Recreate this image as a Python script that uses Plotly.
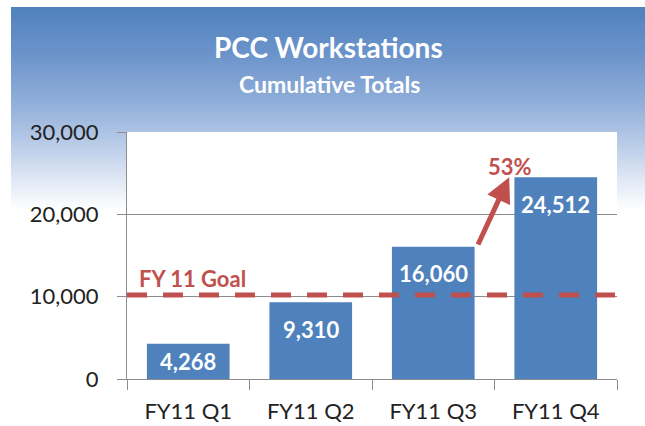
import plotly.graph_objects as go

# ---- data ----
quarters = ["FY11 Q1", "FY11 Q2", "FY11 Q3", "FY11 Q4"]
workstations = [4268, 9310, 16060, 24512]
goal_value = 10200
goal_label = "FY 11 Goal"
growth_label = "53%"
y_ticks = [0, 10000, 20000, 30000]
y_tick_labels = ["0", "10,000", "20,000", "30,000"]
title_text = "PCC Workstations"
subtitle_text = "Cumulative Totals"

# ---- layout geometry (pixels) ----
W, H = 645, 426
L, R, T, B = 127, 617, 132, 379
YMAX = 30000
FONT = "Lato"
BLUE = "#4F81BD"
RED = "#C0504D"
GREY = "#8C8C8C"


def px_x(p):
    return (p - L) / (R - L)


def px_y(p):
    return (B - p) / (B - T)


fig = go.Figure()
fig.add_trace(go.Bar(
    x=quarters, y=workstations, marker=dict(color=BLUE, line=dict(width=0)),
    hoverinfo="skip",
))

shapes = []
# background gradient (blue at top fading to white)
stops = [(7, (79, 129, 189)), (55, (108, 148, 203)), (105, (146, 176, 218)),
         (145, (186, 204, 232)), (178, (222, 230, 244)), (210, (255, 255, 255))]


def col_at(y):
    for (y0, c0), (y1, c1) in zip(stops[:-1], stops[1:]):
        if y0 <= y <= y1:
            t = (y - y0) / (y1 - y0)
            return tuple(round(a + (b - a) * t) for a, b in zip(c0, c1))
    return stops[-1][1]


step = 3
y = 7
while y < 210:
    c = col_at(y + step / 2)
    shapes.append(dict(type="rect", xref="paper", yref="paper", layer="below",
                       x0=px_x(11), x1=px_x(W + 2), y0=px_y(y), y1=px_y(min(y + step + 0.6, 211)),
                       fillcolor="rgb(%d,%d,%d)" % c, line=dict(width=0)))
    y += step
# white plot area
shapes.append(dict(type="rect", xref="paper", yref="paper", layer="below",
                   x0=0, x1=1, y0=0, y1=1, fillcolor="white", line=dict(width=0)))
# goal line
shapes.append(dict(type="line", xref="paper", yref="y", x0=0, x1=1,
                   y0=goal_value, y1=goal_value,
                   line=dict(color=RED, width=5, dash="20px,16px")))

annotations = []
ppu = (B - T) / YMAX
for q, v in zip(quarters, workstations):
    h = v * ppu
    shift = -min(27, h / 2)
    annotations.append(dict(x=q, y=v, xref="x", yref="y", text="{:,}".format(v),
                            showarrow=False, yanchor="middle", yshift=shift,
                            font=dict(family=FONT, size=22, color="white", weight="bold")))

annotations.append(dict(x=px_x(137), y=goal_value, xref="paper", yref="y", text=goal_label,
                        showarrow=False, xanchor="left", yanchor="bottom", yshift=1,
                        font=dict(family=FONT, size=22, color=RED, weight="bold")))

# growth arrow from Q3 bar top to Q4 bar top
i3, i4 = 2, 3
annotations.append(dict(x=i4 - 0.38, y=workstations[i4], ax=i3 + 0.36, ay=workstations[i3] + 100,
                        xref="x", yref="y", axref="x", ayref="y", text="",
                        showarrow=True, arrowhead=2, arrowsize=1.0, arrowwidth=5,
                        arrowcolor=RED, standoff=0))
annotations.append(dict(x=i4 - 0.37, y=workstations[i4], xref="x", yref="y", text=growth_label,
                        showarrow=False, yanchor="bottom", yshift=-5,
                        font=dict(family=FONT, size=22, color=RED, weight="bold")))

# titles
annotations.append(dict(x=px_x(328.5), y=px_y(47), xref="paper", yref="paper", text=title_text,
                        showarrow=False, xanchor="center", yanchor="middle",
                        font=dict(family=FONT, size=28, color="white", weight="bold")))
annotations.append(dict(x=px_x(329), y=px_y(84), xref="paper", yref="paper", text=subtitle_text,
                        showarrow=False, xanchor="center", yanchor="middle",
                        font=dict(family=FONT, size=23, color="white", weight="bold")))

fig.update_layout(
    width=W, height=H,
    margin=dict(l=L, r=W - R, t=T, b=H - B, pad=0, autoexpand=False),
    paper_bgcolor="white", plot_bgcolor="white",
    bargap=0.325, showlegend=False,
    shapes=shapes, annotations=annotations,
    font=dict(family=FONT, size=22, color="#222222"),
)
fig.update_xaxes(
    type="category", showline=True, linecolor=GREY, linewidth=1,
    ticks="outside", tickson="boundaries", ticklen=10, tickcolor=GREY, tickwidth=1,
    showgrid=False, tickfont=dict(family=FONT, size=22, color="#222222"),
    ticklabelstandoff=13, automargin=False, fixedrange=True,
)
fig.update_yaxes(
    range=[0, YMAX], tickvals=y_ticks, ticktext=y_tick_labels,
    showline=True, linecolor=GREY, linewidth=1,
    ticks="outside", ticklen=9, tickcolor=GREY, tickwidth=1,
    showgrid=True, gridcolor=GREY, gridwidth=1, zeroline=False,
    tickfont=dict(family=FONT, size=22, color="#222222"), ticklabelstandoff=14,
    automargin=False, fixedrange=True,
)

fig.write_html("out.html", config={"displayModeBar": False},
               post_script="document.body.style.margin='0';")
